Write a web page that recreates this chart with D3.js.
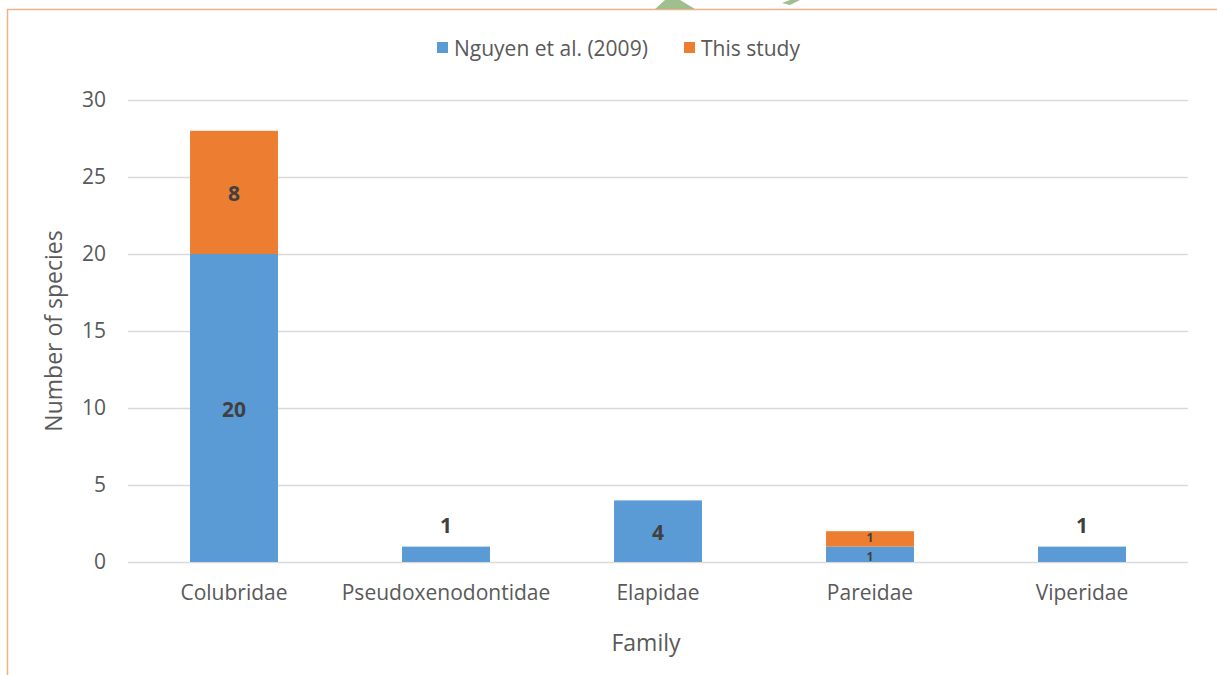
<!DOCTYPE html>
<html>
<head>
<meta charset="utf-8">
<script src="https://cdn.jsdelivr.net/npm/d3@7"></script>
<style>
  body { margin: 0; background: #fff; }
  svg { font-family: "Open Sans", Lato, sans-serif; }
</style>
</head>
<body>
<svg width="1217" height="675"></svg>
<script>
// data
var families = ["Colubridae", "Pseudoxenodontidae", "Elapidae", "Pareidae", "Viperidae"];
var nguyen = [20, 1, 4, 1, 1];
var thisStudy = [8, 0, 0, 1, 0];
var seriesNames = ["Nguyen et al. (2009)", "This study"];
var yTicks = [0, 5, 10, 15, 20, 25, 30];

var colors = ["#5b9bd5", "#ed7d31"];
var font = '"Open Sans", Lato, sans-serif';

var svg = d3.select('svg');

// frame border (page edge from the source document)
svg.append('path')
    .attr('d', 'M7.5,675 L7.5,9.5 L1217,9.5')
    .attr('fill', 'none')
    .attr('stroke', '#f4b183')
    .attr('stroke-width', 1.5);

// bits of a green figure cut off above the chart
svg.append('path').attr('d', 'M655,9 L665,0 L680,0 L695,9 Z').attr('fill', '#9fbf8f');
svg.append('path').attr('d', 'M782,3 L790,0 L800,0 L790,5 Z').attr('fill', '#9fbf8f');

var scaleX = d3.scaleBand().domain(families).range([128, 1188]).paddingInner(0.585).paddingOuter(0.2925);
var scaleY = d3.scaleLinear().domain([0, 30]).range([562, 100]);

// grid lines
svg.append('g').selectAll('line')
    .data(yTicks)
    .enter()
    .append('line')
    .attr('x1', 128)
    .attr('x2', 1188)
    .attr('y1', function(d){ return scaleY(d) + 0.5; })
    .attr('y2', function(d){ return scaleY(d) + 0.5; })
    .attr('stroke', '#d9d9d9')
    .attr('stroke-width', 1.5);

// y axis labels
var yAxis = svg.append('g')
    .attr('transform', 'translate(128,0)')
    .call(d3.axisLeft(scaleY).tickValues(yTicks).tickSize(0).tickPadding(22));
yAxis.select('.domain').remove();
yAxis.selectAll('text')
    .attr('fill', '#595959')
    .style('font-size', '21px')
    .style('font-family', font);

// x axis labels
var xAxis = svg.append('g')
    .attr('transform', 'translate(0,562)')
    .call(d3.axisBottom(scaleX).tickSize(0).tickPadding(23));
xAxis.select('.domain').remove();
xAxis.selectAll('text')
    .attr('fill', '#595959')
    .style('font-size', '21px')
    .style('font-family', font);

// stacked data
var rows = families.map(function(f, i){
    return { family: f, a: nguyen[i], b: thisStudy[i] };
});
var stacked = d3.stack().keys(['a', 'b'])(rows);

svg.append('g').selectAll('g')
    .data(stacked)
    .enter()
    .append('g')
    .attr('fill', function(d, i){ return colors[i]; })
    .selectAll('rect')
    .data(function(d){ return d; })
    .enter()
    .append('rect')
    .attr('x', function(d){ return scaleX(d.data.family); })
    .attr('width', scaleX.bandwidth())
    .attr('y', function(d){ return scaleY(d[1]); })
    .attr('height', function(d){ return scaleY(d[0]) - scaleY(d[1]); });

// data labels
var labels = [];
stacked.forEach(function(s, si){
    s.forEach(function(d){
        var v = d[1] - d[0];
        if (v <= 0) return;
        var h = scaleY(d[0]) - scaleY(d[1]);
        var small = d.data.family === 'Pareidae';
        var above = h < 20 && !small;
        var mid = (scaleY(d[0]) + scaleY(d[1])) / 2;
        labels.push({
            x: scaleX(d.data.family) + scaleX.bandwidth() / 2,
            y: above ? scaleY(d[1]) - 21 : (small ? mid + (si === 0 ? 2 : -1) : mid + 1),
            text: v,
            size: small ? 12 : 21
        });
    });
});

svg.append('g').selectAll('text')
    .data(labels)
    .enter()
    .append('text')
    .attr('x', function(d){ return d.x; })
    .attr('y', function(d){ return d.y; })
    .attr('dy', '0.36em')
    .attr('text-anchor', 'middle')
    .attr('fill', '#404040')
    .style('font-weight', 'bold')
    .style('font-size', function(d){ return d.size + 'px'; })
    .text(function(d){ return d.text; });

// axis titles
svg.append('text')
    .text('Family')
    .attr('x', 646)
    .attr('y', 651)
    .attr('text-anchor', 'middle')
    .attr('fill', '#595959')
    .style('font-size', '23px');

svg.append('text')
    .text('Number of species')
    .attr('transform', 'translate(62,331)rotate(-90)')
    .attr('text-anchor', 'middle')
    .attr('fill', '#595959')
    .style('font-size', '23px');

// legend
var legendX = [437, 684];
var legend = svg.append('g').selectAll('g')
    .data(seriesNames)
    .enter()
    .append('g')
    .attr('transform', function(d, i){ return 'translate(' + legendX[i] + ',42)'; });
legend.append('rect')
    .attr('width', 11)
    .attr('height', 11)
    .attr('fill', function(d, i){ return colors[i]; });
legend.append('text')
    .attr('x', 17)
    .attr('y', 6)
    .attr('dy', '0.36em')
    .attr('fill', '#595959')
    .style('font-size', '21px')
    .text(function(d){ return d; });
</script>
</body>
</html>
